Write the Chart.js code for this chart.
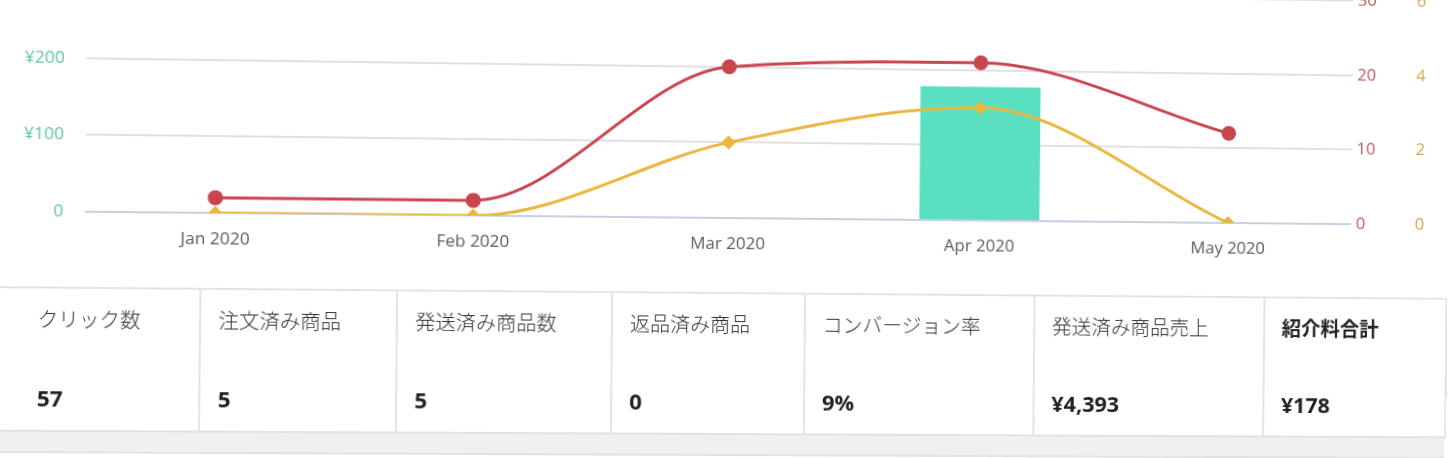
<!DOCTYPE html>
<html>
<head>
<meta charset="utf-8">
<script src="https://cdn.jsdelivr.net/npm/chart.js@4.4.1/dist/chart.umd.min.js"></script>
<style>
  html, body { margin: 0; padding: 0; background: #fff; overflow: hidden; width: 1448px; height: 458px; }
  #page {
    position: relative;
    width: 1448px;
    height: 458px;
    /* 写真っぽい傾きと遠近 */
    transform: perspective(2000px) rotateY(2.8deg) rotateZ(0.55deg);
    transform-origin: 724px 229px;
    font-family: "Open Sans", "Noto Sans CJK JP", sans-serif;
  }
  #chartBox { position: absolute; left: 0; top: -40px; width: 1448px; height: 300px; }
  #stats {
    position: absolute; left: -10px; top: 292px; height: 143px;
    display: flex; border-top: 2px solid #e4e4e4; border-bottom: 2px solid #e2e2e2;
    border-right: 2px solid #e4e4e4; box-sizing: border-box; background: #fff;
  }
  .cell { position: relative; border-left: 2px solid #e4e4e4; box-sizing: border-box; height: 100%; }
  .cell:first-child { border-left: none; }
  .cell .lbl { position: absolute; top: 15px; font-size: 20px; color: #333; font-family: "Noto Sans CJK JP", sans-serif; font-weight: 300; white-space: nowrap; }
  .cell .val { position: absolute; top: 92px; font-size: 22px; color: #222; font-weight: 700; font-family: "Open Sans", sans-serif; }
  .cell.strong .lbl { font-weight: 700; color: #222; }
  #band { position: absolute; left: -10px; top: 435px; width: 1470px; height: 19px; background: #f0f0f0; border-bottom: 2px solid #e2e2e2; }
</style>
</head>
<body>
<div id="page">
  <div id="chartBox"><canvas id="chart"></canvas></div>
  <div id="stats"></div>
  <div id="band"></div>
</div>
<script>
// 月ごとの値
const months = ["Jan 2020", "Feb 2020", "Mar 2020", "Apr 2020", "May 2020"];
const earnings = [0, 0, 0, 178, 0];   // 紹介料 (¥)
const clicks = [2, 2, 20, 21, 12];    // クリック数
const ordered = [0, 0, 2, 3, 0];      // 注文済み商品

// 下の集計表
const statLabels = ["クリック数", "注文済み商品", "発送済み商品数", "返品済み商品", "コンバージョン率", "発送済み商品売上", "紹介料合計"];
const statValues = ["57", "5", "5", "0", "9%", "¥4,393", "¥178"];
const statWidths = [216, 193, 213, 193, 232, 235, 188];

const stats = document.getElementById("stats");
statLabels.forEach((lbl, i) => {
  const cell = document.createElement("div");
  cell.className = "cell" + (i === statLabels.length - 1 ? " strong" : "");
  cell.style.width = statWidths[i] + "px";
  const pad = i === 0 ? 59 : 17;
  cell.innerHTML = `<div class="lbl" style="left:${pad}px">${lbl}</div><div class="val" style="left:${pad}px">${statValues[i]}</div>`;
  stats.appendChild(cell);
});

const fixWidth = (w) => (scale) => { scale.width = w; };
const tickFont = { family: "Open Sans", size: 17 };

new Chart(document.getElementById("chart"), {
  type: "bar",
  data: {
    labels: months,
    datasets: [
      {
        type: "line",
        label: "クリック数",
        data: clicks,
        yAxisID: "yClicks",
        borderColor: "#c9464e",
        backgroundColor: "#c9464e",
        borderWidth: 3,
        pointRadius: 6,
        pointHoverRadius: 6,
        cubicInterpolationMode: "monotone",
        order: 1,
      },
      {
        type: "line",
        label: "注文済み商品",
        data: ordered,
        yAxisID: "yOrders",
        borderColor: "#e9b73f",
        backgroundColor: "#e9b73f",
        borderWidth: 3,
        pointStyle: "rectRot",
        pointRadius: 5,
        pointHoverRadius: 5,
        cubicInterpolationMode: "monotone",
        order: 0,
      },
      {
        label: "紹介料",
        data: earnings,
        yAxisID: "yYen",
        backgroundColor: "#5ae0c1",
        barPercentage: 0.6,
        categoryPercentage: 0.8,
        order: 2,
      },
    ],
  },
  options: {
    responsive: true,
    maintainAspectRatio: false,
    animation: false,
    layout: { padding: { top: 24, bottom: 0, left: 0, right: 0 } },
    plugins: { legend: { display: false }, tooltip: { enabled: false } },
    scales: {
      x: {
        grid: { display: false },
        border: { display: false },
        ticks: { color: "#5c5c5c", padding: 8, font: tickFont },
        afterFit: (scale) => { scale.height = 42; },
      },
      yYen: {
        position: "left",
        min: 0,
        max: 300,
        ticks: {
          stepSize: 100,
          color: "#5fc6a6",
          padding: 21,
          font: tickFont,
          callback: (v) => (v === 0 ? "0" : "¥" + v),
        },
        grid: {
          drawTicks: false,
          lineWidth: 2,
          color: (ctx) => (ctx.tick && ctx.tick.value === 0 ? "#c6d0e2" : "#e0e1e5"),
        },
        border: { display: false },
        afterFit: fixWidth(94),
      },
      yClicks: {
        position: "right",
        weight: 0,
        min: 0,
        max: 30,
        ticks: { stepSize: 10, color: "#b8545b", padding: 5, font: tickFont },
        grid: { display: false, drawTicks: false },
        border: { display: false },
        afterFit: fixWidth(58),
      },
      yOrders: {
        position: "right",
        weight: 1,
        min: 0,
        max: 6,
        ticks: { stepSize: 2, color: "#d2a548", padding: 8, font: tickFont },
        grid: { display: false, drawTicks: false },
        border: { display: false },
        afterFit: fixWidth(28.5),
      },
    },
  },
});
</script>
</body>
</html>
